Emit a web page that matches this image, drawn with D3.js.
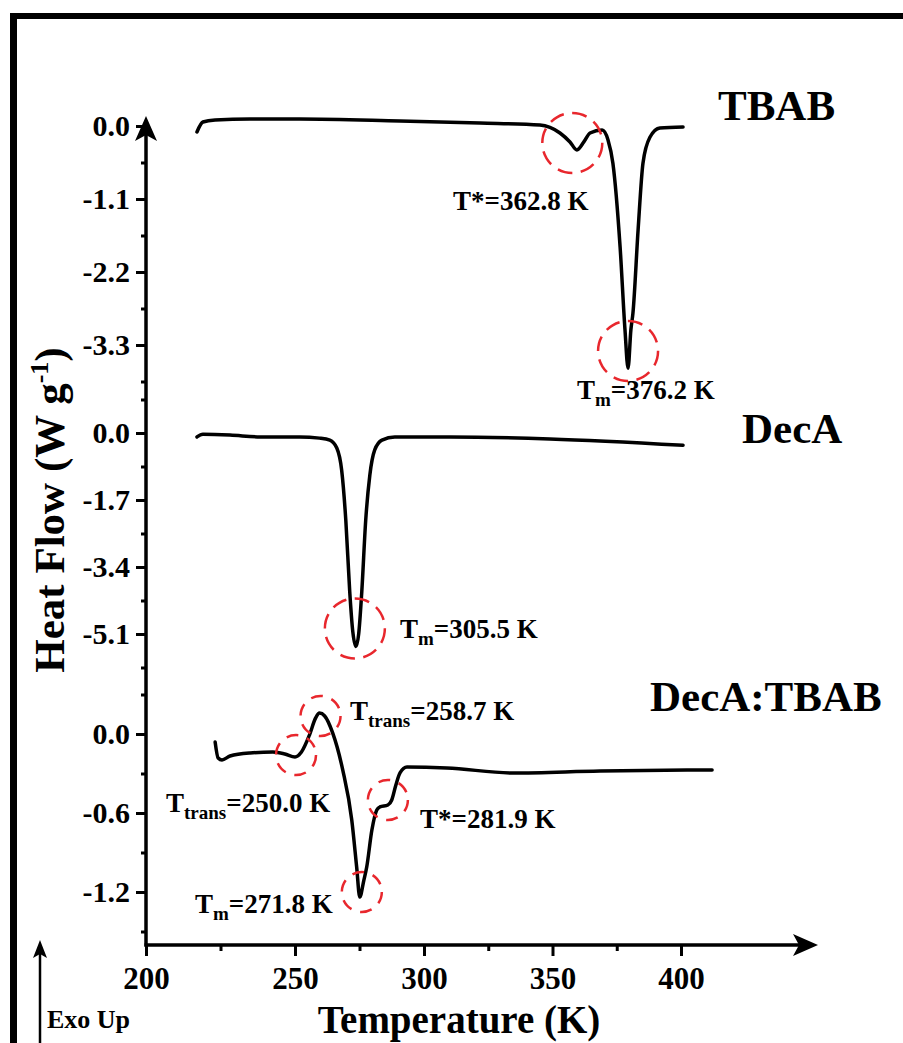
<!DOCTYPE html>
<html>
<head>
<meta charset="utf-8">
<script src="https://cdn.jsdelivr.net/npm/d3@7"></script>
<style>
	body { margin: 0; background: #fff; }
	svg text { font-family: "Liberation Serif", "Times New Roman", serif; font-weight: bold; fill: #000; }
</style>
</head>
<body>
<div id="chart"></div>
<script>
// temperature (K) / heat flow (W g-1)
var tbabT  = [217.1, 219.1, 223.2, 234.9, 251.8, 290.7, 321.8, 345.1, 352.9, 356.8, 359.5, 362.2, 364.6, 369.3, 371.6, 373.5, 376.3, 378.2, 379.4, 380.5, 381.3, 383.3, 385.2, 387.9, 391.8, 400.8];
var tbabHF = [-0.09, 0.06, 0.09, 0.105, 0.105, 0.075, 0.045, 0.015, -0.105, -0.24, -0.36, -0.24, -0.105, -0.06, -0.21, -0.56, -1.82, -3.07, -3.65, -3.07, -2.82, -1.57, -0.56, -0.17, -0.03, -0.015];

var decaT  = [217.1, 219.1, 228.2, 238.3, 251.8, 259.5, 263.5, 266.2, 268.1, 269.7, 271.2, 272.4, 273.6, 274.7, 275.9, 277.4, 279.0, 280.9, 283.7, 288.7, 310.1, 349.0, 400.8];
var decaHF = [-0.10, -0.03, -0.05, -0.10, -0.10, -0.13, -0.18, -0.38, -0.95, -2.22, -4.01, -5.04, -5.42, -5.09, -4.01, -2.22, -1.07, -0.43, -0.18, -0.10, -0.10, -0.15, -0.31];

var mixT  = [223.2, 224.2, 225.5, 228.2, 234.9, 242.6, 246.6, 250.0, 252.5, 255.6, 258.0, 259.5, 261.5, 264.6, 268.5, 272.0, 273.9, 275.1, 276.7, 277.8, 279.8, 281.7, 282.9, 286.0, 287.5, 289.1, 290.7, 293.4, 308.9, 334.6, 368.5, 412.1];
var mixHF = [-0.061, -0.182, -0.197, -0.167, -0.144, -0.137, -0.152, -0.175, -0.137, -0.008, 0.122, 0.159, 0.137, 0.008, -0.273, -0.653, -1.01, -1.238, -1.109, -1.01, -0.729, -0.577, -0.554, -0.539, -0.501, -0.387, -0.296, -0.251, -0.258, -0.296, -0.281, -0.273];

var xTicks = [200, 250, 300, 350, 400];
var xMinor = [225, 275, 325, 375];

var tbabTicks = [0.0, -1.1, -2.2, -3.3];
var tbabMinor = [-0.55, -1.65, -2.75, -3.85];
var decaTicks = [0.0, -1.7, -3.4, -5.1];
var decaMinor = [0.85, -0.85, -2.55, -4.25, -5.95];
var mixTicks = [0.0, -0.6, -1.2];
var mixMinor = [0.3, -0.3, -0.9, -1.5];

// marked events (circle centres) per panel
var tbabMarkT = [357.7, 379.4];
var tbabMarkHF = [-0.256, -3.39];
var decaMarkT = [273.2];
var decaMarkHF = [-4.96];
var mixMarkT = [250.4, 259.9, 286.0, 275.9];
var mixMarkHF = [-0.16, 0.137, -0.501, -1.2];

var width = 903, height = 1043;
var axisX = 146, axisY = 945;

var svg = d3.select("#chart").append("svg")
	.attr("width", width)
	.attr("height", height);

svg.append("rect").attr("width", width).attr("height", height).attr("fill", "#fff");

// frame (top and left only)
svg.append("rect").attr("x", 10).attr("y", 13).attr("width", width - 10).attr("height", 6).attr("fill", "#000");
svg.append("rect").attr("x", 10).attr("y", 13).attr("width", 7).attr("height", height - 13).attr("fill", "#000");

// the printed axis is not evenly spaced at its left end
var x = d3.scaleLinear()
	.domain([200, 250, 300, 400])
	.range([146, 295, 424, 681]);

var panels = [
	{name: "TBAB", T: tbabT, hf: tbabHF, ticks: tbabTicks, minor: tbabMinor, markT: tbabMarkT, markHF: tbabMarkHF,
		y: d3.scaleLinear().domain([0, -3.3]).range([126, 345]), r: 30},
	{name: "DecA", T: decaT, hf: decaHF, ticks: decaTicks, minor: decaMinor, markT: decaMarkT, markHF: decaMarkHF,
		y: d3.scaleLinear().domain([0, -5.1]).range([433, 634]), r: 30},
	{name: "DecA:TBAB", T: mixT, hf: mixHF, ticks: mixTicks, minor: mixMinor, markT: mixMarkT, markHF: mixMarkHF,
		y: d3.scaleLinear().domain([0, -1.2]).range([734, 892]), r: 20}
];

var fmt = function(d) { return d3.format(".1f")(d).replace("\u2212", "-"); };

// y axis line + arrow
svg.append("line")
	.attr("x1", axisX).attr("y1", axisY + 1.5)
	.attr("x2", axisX).attr("y2", 130)
	.style("stroke", "#000").style("stroke-width", 3.5);
svg.append("path")
	.attr("d", "M" + axisX + ",116 L" + (axisX - 11) + ",141 L" + axisX + ",135 L" + (axisX + 11) + ",141 Z")
	.attr("fill", "#000");

// x axis line + arrow
svg.append("line")
	.attr("x1", axisX - 1.5).attr("y1", axisY)
	.attr("x2", 805).attr("y2", axisY)
	.style("stroke", "#000").style("stroke-width", 3.5);
svg.append("path")
	.attr("d", "M818," + axisY + " L793," + (axisY - 11) + " L799," + axisY + " L793," + (axisY + 11) + " Z")
	.attr("fill", "#000");

// x ticks
var xAxis = d3.axisBottom(x).tickValues(xTicks).tickSize(11).tickPadding(10).tickFormat(d3.format("d"));
var gx = svg.append("g").attr("transform", "translate(0," + axisY + ")").call(xAxis);
gx.select(".domain").remove();
gx.selectAll(".tick line").style("stroke", "#000").style("stroke-width", 3);
gx.selectAll(".tick text").style("font-size", "31px").style("font-family", "Liberation Serif").style("font-weight", "bold").attr("dy", "0.75em");

var xAxisMinor = d3.axisBottom(x).tickValues(xMinor).tickSize(6).tickFormat("");
var gxm = svg.append("g").attr("transform", "translate(0," + axisY + ")").call(xAxisMinor);
gxm.select(".domain").remove();
gxm.selectAll(".tick line").style("stroke", "#000").style("stroke-width", 3);

var lineGen = d3.line().curve(d3.curveMonotoneX);

panels.forEach(function(p) {
	var yAxis = d3.axisLeft(p.y).tickValues(p.ticks).tickSize(10).tickPadding(6).tickFormat(fmt);
	var gy = svg.append("g").attr("transform", "translate(" + axisX + ",0)").call(yAxis);
	gy.select(".domain").remove();
	gy.selectAll(".tick line").style("stroke", "#000").style("stroke-width", 3);
	gy.selectAll(".tick text").style("font-size", "30px").style("font-family", "Liberation Serif").style("font-weight", "bold");

	var yMinor = d3.axisLeft(p.y).tickValues(p.minor).tickSize(5).tickFormat("");
	var gym = svg.append("g").attr("transform", "translate(" + axisX + ",0)").call(yMinor);
	gym.select(".domain").remove();
	gym.selectAll(".tick line").style("stroke", "#000").style("stroke-width", 3);

	var pts = p.T.map(function(t, i) { return [x(t), p.y(p.hf[i])]; });
	svg.append("path")
		.attr("d", lineGen(pts))
		.attr("fill", "none")
		.style("stroke", "#000")
		.style("stroke-width", 3.5)
		.style("stroke-linecap", "round")
		.style("stroke-linejoin", "round");

	svg.selectAll(null)
		.data(p.markT)
		.enter().append("circle")
		.attr("cx", function(d) { return x(d); })
		.attr("cy", function(d, i) { return p.y(p.markHF[i]); })
		.attr("r", p.r)
		.attr("fill", "none")
		.style("stroke", "#e8272d")
		.style("stroke-width", 2.5)
		.style("stroke-dasharray", p.r > 25 ? "15,8.5" : "12,9");
});

// sample names
var names = [
	{t: "TBAB", x: 718, y: 120},
	{t: "DecA", x: 742, y: 443},
	{t: "DecA:TBAB", x: 650, y: 711}
];
names.forEach(function(n) {
	svg.append("text").attr("x", n.x).attr("y", n.y).style("font-size", "43px").text(n.t);
});

// event labels: main letter, subscript, rest
var labels = [
	{main: "T", sub: "", rest: "*=362.8 K", x: 453, y: 210},
	{main: "T", sub: "m", rest: "=376.2 K", x: 577, y: 399},
	{main: "T", sub: "m", rest: "=305.5 K", x: 400, y: 638},
	{main: "T", sub: "trans", rest: "=258.7 K", x: 350, y: 720},
	{main: "T", sub: "trans", rest: "=250.0 K", x: 166, y: 812},
	{main: "T", sub: "", rest: "*=281.9 K", x: 420, y: 828},
	{main: "T", sub: "m", rest: "=271.8 K", x: 195, y: 913}
];
labels.forEach(function(l) {
	var t = svg.append("text").attr("x", l.x).attr("y", l.y).style("font-size", "27px");
	t.append("tspan").text(l.main);
	if (l.sub) {
		t.append("tspan").attr("dy", 7).style("font-size", "19px").text(l.sub);
		t.append("tspan").attr("dy", -7).text(l.rest);
	} else {
		t.append("tspan").text(l.rest);
	}
});

// axis titles
svg.append("text")
	.attr("x", 459).attr("y", 1033)
	.style("text-anchor", "middle")
	.style("font-size", "39px")
	.text("Temperature (K)");

var yl = svg.append("text")
	.attr("transform", "translate(64,510) rotate(-90)")
	.style("text-anchor", "middle")
	.style("font-size", "43px");
yl.append("tspan").text("Heat Flow (W g");
yl.append("tspan").attr("dy", -16).style("font-size", "26px").text("-1");
yl.append("tspan").attr("dy", 16).text(")");

// Exo Up
svg.append("line")
	.attr("x1", 40).attr("y1", height)
	.attr("x2", 40).attr("y2", 950)
	.style("stroke", "#000").style("stroke-width", 2.5);
svg.append("path")
	.attr("d", "M40,940 L33,958 L40,954 L47,958 Z")
	.attr("fill", "#000");
svg.append("text").attr("x", 47).attr("y", 1028).style("font-size", "26px").text("Exo Up");
</script>
</body>
</html>
